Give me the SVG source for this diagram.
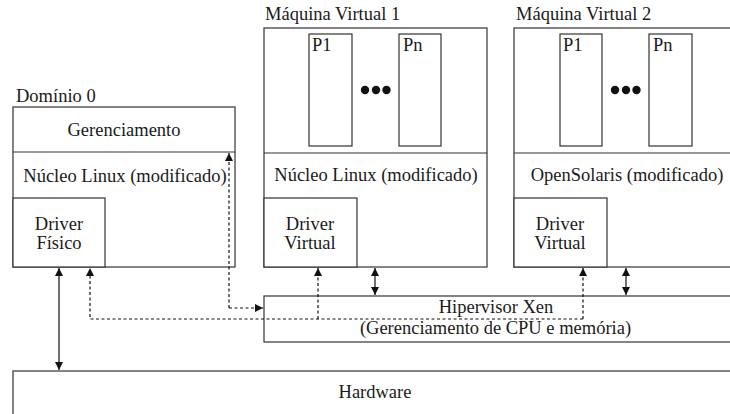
<svg xmlns="http://www.w3.org/2000/svg" width="730" height="414" viewBox="0 0 730 414">
<style>
.box{fill:#fff;stroke:#333;stroke-width:1.2}
.ln{fill:none;stroke:#333;stroke-width:1.2}
.t{font-family:"Liberation Serif","Times New Roman",serif;font-size:18.5px;fill:#1a1a1a}
.c{text-anchor:middle}
.solid{fill:none;stroke:#111;stroke-width:1.2}
.dash{fill:none;stroke:#111;stroke-width:1.2;stroke-dasharray:3 2.5}
</style>
<defs>
<marker id="ah" viewBox="0 0 10 10" refX="10" refY="5" markerWidth="8" markerHeight="8" markerUnits="userSpaceOnUse" orient="auto-start-reverse">
<path d="M0,0 L10,5 L0,10 z" fill="#111"/>
</marker>
</defs>

<g id="hardware">
<rect class="box" x="13" y="371" width="724" height="60"/>
<text class="t c" x="375" y="398">Hardware</text>
</g>

<g id="hipervisor">
<rect class="box" x="264" y="296" width="480" height="46"/>
<text class="t c" x="496" y="313">Hipervisor Xen</text>
<text class="t c" x="495.5" y="334">(Gerenciamento de CPU e memória)</text>
</g>

<g id="dominio0">
<text class="t" x="16" y="102">Domínio 0</text>
<rect class="box" x="13" y="107" width="222" height="160"/>
<line class="ln" x1="13" y1="152" x2="235" y2="152"/>
<text class="t c" x="124" y="136">Gerenciamento</text>
<text class="t c" x="125" y="182">Núcleo Linux (modificado)</text>
</g>
<g id="driver-fisico">
<rect class="box" x="13" y="198" width="92" height="69"/>
<text class="t c" x="59" y="230">Driver</text>
<text class="t c" x="59" y="249">Físico</text>
</g>

<g id="vm1">
<text class="t" x="265" y="20">Máquina Virtual 1</text>
<rect class="box" x="264" y="28" width="223" height="239"/>
<line class="ln" x1="264" y1="153" x2="487" y2="153"/>
<rect class="box" x="309" y="34" width="43" height="112"/>
<text class="t" x="312" y="51">P1</text>
<rect class="box" x="399" y="34" width="42" height="112"/>
<text class="t" x="403" y="51">Pn</text>
<circle cx="365" cy="90" r="4.2" fill="#111"/>
<circle cx="376" cy="90" r="4.2" fill="#111"/>
<circle cx="386.5" cy="90" r="4.2" fill="#111"/>
<text class="t c" x="376" y="181">Núcleo Linux (modificado)</text>
</g>
<g id="driver-virtual-1">
<rect class="box" x="264" y="198" width="93" height="69"/>
<text class="t c" x="310" y="230">Driver</text>
<text class="t c" x="310" y="249">Virtual</text>
</g>

<g id="vm2">
<text class="t" x="516" y="20">Máquina Virtual 2</text>
<rect class="box" x="514" y="28" width="226" height="239"/>
<line class="ln" x1="514" y1="153" x2="740" y2="153"/>
<rect class="box" x="560" y="34" width="42" height="112"/>
<text class="t" x="563" y="51">P1</text>
<rect class="box" x="649" y="34" width="43" height="112"/>
<text class="t" x="653" y="51">Pn</text>
<circle cx="615" cy="90" r="4.2" fill="#111"/>
<circle cx="626" cy="90" r="4.2" fill="#111"/>
<circle cx="636.5" cy="90" r="4.2" fill="#111"/>
<text class="t c" x="627" y="181">OpenSolaris (modificado)</text>
</g>
<g id="driver-virtual-2">
<rect class="box" x="514" y="198" width="93" height="69"/>
<text class="t c" x="560" y="230">Driver</text>
<text class="t c" x="560" y="249">Virtual</text>
</g>

<g id="connectors">
<line class="solid" x1="59" y1="268" x2="59" y2="370" marker-start="url(#ah)" marker-end="url(#ah)"/>
<line class="solid" x1="375" y1="268" x2="375" y2="295" marker-start="url(#ah)" marker-end="url(#ah)"/>
<line class="solid" x1="626" y1="268" x2="626" y2="295" marker-start="url(#ah)" marker-end="url(#ah)"/>
<polyline class="dash" points="229,308 229,153" marker-end="url(#ah)"/>
<polyline class="dash" points="229,308 263,308" marker-end="url(#ah)"/>
<polyline class="dash" points="583,319 90,319 90,268" marker-end="url(#ah)"/>
<polyline class="dash" points="318,319 318,268" marker-end="url(#ah)"/>
<polyline class="dash" points="583,319 583,268" marker-end="url(#ah)"/>
</g>
</svg>
